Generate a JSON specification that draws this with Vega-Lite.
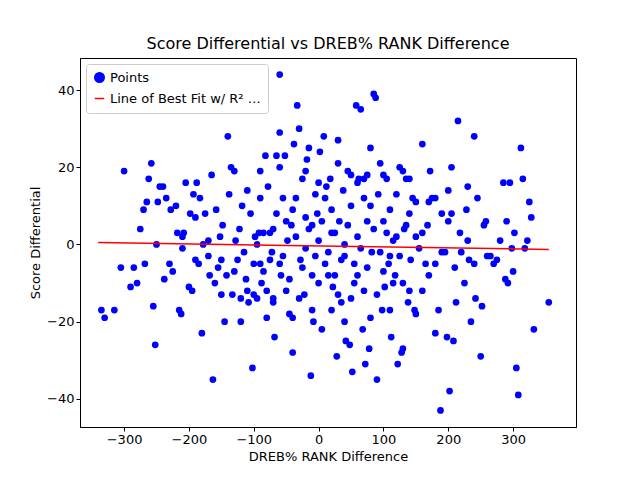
{
  "$schema": "https://vega.github.io/schema/vega-lite/v6.json",
  "width": 496,
  "height": 369,
  "autosize": "none",
  "padding": {"left": 80, "top": 58, "right": 64, "bottom": 53},
  "config": {
    "font": "DejaVu Sans",
    "view": {"stroke": "black", "strokeWidth": 1},
    "axis": {"grid": false, "domainColor": "black", "tickColor": "black", "labelColor": "black", "titleColor": "black", "labelFontSize": 13, "titleFontSize": 13, "titleFontWeight": "normal", "labelFont": "DejaVu Sans", "titleFont": "DejaVu Sans", "tickSize": 4},
    "title": {"fontSize": 16, "fontWeight": "normal", "font": "DejaVu Sans", "offset": 6}
  },
  "title": "Score Differential vs DREB% RANK Difference",
  "datasets": {
    "pts": [
      {"x":-335,"y":-17},{"x":-330,"y":-19},{"x":-315,"y":-17},{"x":-300,"y":19},{"x":-305,"y":-6},{"x":-290,"y":-11},{"x":-285,"y":-6},{"x":-280,"y":-10},{"x":-275,"y":4},{"x":-270,"y":9},{"x":-268,"y":-5},{"x":-265,"y":11},{"x":-262,"y":17},{"x":-258,"y":21},{"x":-255,"y":-16},{"x":-252,"y":-26},{"x":-250,"y":0},{"x":-248,"y":11},{"x":-245,"y":15},{"x":-240,"y":15},{"x":-238,"y":-9},{"x":-235,"y":12},{"x":-230,"y":-5},{"x":-228,"y":9},{"x":-225,"y":-7},{"x":-220,"y":10},{"x":-218,"y":3},{"x":-215,"y":-17},{"x":-212,"y":-18},{"x":-210,"y":2},{"x":-208,"y":3},{"x":-205,"y":16},{"x":-200,"y":-11},{"x":-198,"y":8},{"x":-195,"y":-12},{"x":-193,"y":13},{"x":-190,"y":7},{"x":-188,"y":16},{"x":-185,"y":-5},{"x":-183,"y":12},{"x":-180,"y":-23},{"x":-178,"y":0},{"x":-175,"y":8},{"x":-170,"y":1},{"x":-168,"y":-8},{"x":-165,"y":18},{"x":-163,"y":-35},{"x":-160,"y":-10},{"x":-158,"y":9},{"x":-155,"y":-6},{"x":-152,"y":2},{"x":-150,"y":-4},{"x":-148,"y":5},{"x":-145,"y":-20},{"x":-142,"y":-8},{"x":-140,"y":28},{"x":-138,"y":13},{"x":-135,"y":20},{"x":-133,"y":-13},{"x":-130,"y":19},{"x":-128,"y":1},{"x":-125,"y":-4},{"x":-122,"y":4},{"x":-120,"y":-20},{"x":-118,"y":10},{"x":-115,"y":-2},{"x":-112,"y":-9},{"x":-110,"y":14},{"x":-108,"y":-15},{"x":-105,"y":8},{"x":-102,"y":-32},{"x":-100,"y":-13},{"x":-98,"y":2},{"x":-95,"y":-14},{"x":-92,"y":3},{"x":-90,"y":-5},{"x":-88,"y":-10},{"x":-85,"y":-7},{"x":-82,"y":23},{"x":-80,"y":-19},{"x":-78,"y":15},{"x":-75,"y":3},{"x":-72,"y":-2},{"x":-70,"y":4},{"x":-68,"y":-24},{"x":-65,"y":23},{"x":-60,"y":44},{"x":-60,"y":29},{"x":-58,"y":-8},{"x":-55,"y":12},{"x":-52,"y":23},{"x":-50,"y":-12},{"x":-48,"y":1},{"x":-45,"y":-18},{"x":-42,"y":5},{"x":-40,"y":-28},{"x":-38,"y":26},{"x":-35,"y":12},{"x":-33,"y":36},{"x":-30,"y":30},{"x":-28,"y":-4},{"x":-25,"y":17},{"x":-22,"y":-13},{"x":-20,"y":7},{"x":-18,"y":22},{"x":-15,"y":25},{"x":-12,"y":-34},{"x":-10,"y":5},{"x":-8,"y":-20},{"x":-5,"y":13},{"x":-2,"y":8},{"x":0,"y":-10},{"x":2,"y":24},{"x":5,"y":-22},{"x":8,"y":28},{"x":10,"y":-5},{"x":12,"y":15},{"x":15,"y":-2},{"x":18,"y":17},{"x":20,"y":3},{"x":22,"y":-11},{"x":25,"y":-8},{"x":28,"y":-29},{"x":30,"y":27},{"x":32,"y":6},{"x":35,"y":-15},{"x":38,"y":14},{"x":40,"y":-3},{"x":42,"y":-25},{"x":45,"y":19},{"x":48,"y":-26},{"x":50,"y":10},{"x":52,"y":-33},{"x":55,"y":-5},{"x":58,"y":36},{"x":60,"y":2},{"x":62,"y":17},{"x":65,"y":35},{"x":68,"y":-22},{"x":70,"y":12},{"x":72,"y":-31},{"x":75,"y":6},{"x":78,"y":-27},{"x":80,"y":25},{"x":82,"y":-2},{"x":85,"y":39},{"x":88,"y":38},{"x":90,"y":-35},{"x":92,"y":13},{"x":95,"y":21},{"x":98,"y":-17},{"x":100,"y":6},{"x":102,"y":-11},{"x":105,"y":17},{"x":108,"y":-5},{"x":110,"y":9},{"x":112,"y":-24},{"x":115,"y":1},{"x":118,"y":-8},{"x":120,"y":13},{"x":122,"y":-31},{"x":125,"y":20},{"x":128,"y":-28},{"x":130,"y":-27},{"x":132,"y":4},{"x":135,"y":17},{"x":138,"y":-15},{"x":140,"y":8},{"x":142,"y":-4},{"x":145,"y":12},{"x":148,"y":-17},{"x":150,"y":2},{"x":155,"y":-1},{"x":160,"y":26},{"x":165,"y":-5},{"x":168,"y":5},{"x":172,"y":19},{"x":175,"y":12},{"x":180,"y":-23},{"x":185,"y":-17},{"x":188,"y":-43},{"x":190,"y":8},{"x":195,"y":-2},{"x":198,"y":-24},{"x":200,"y":6},{"x":202,"y":-38},{"x":205,"y":20},{"x":208,"y":-25},{"x":210,"y":-6},{"x":212,"y":-15},{"x":215,"y":32},{"x":218,"y":3},{"x":220,"y":-2},{"x":225,"y":-10},{"x":228,"y":9},{"x":230,"y":15},{"x":232,"y":-4},{"x":235,"y":-20},{"x":240,"y":28},{"x":242,"y":-14},{"x":245,"y":12},{"x":250,"y":-29},{"x":252,"y":-16},{"x":255,"y":5},{"x":258,"y":6},{"x":265,"y":-3},{"x":270,"y":-5},{"x":280,"y":1},{"x":285,"y":16},{"x":288,"y":-9},{"x":290,"y":6},{"x":292,"y":-10},{"x":295,"y":16},{"x":298,"y":-1},{"x":300,"y":-7},{"x":302,"y":3},{"x":305,"y":-32},{"x":308,"y":-39},{"x":312,"y":25},{"x":315,"y":17},{"x":318,"y":-1},{"x":322,"y":1},{"x":325,"y":11},{"x":328,"y":7},{"x":332,"y":-22},{"x":355,"y":-15},
      {"x":-95,"y":0},{"x":-85,"y":3},{"x":-75,"y":-4},{"x":-65,"y":8},{"x":-55,"y":-3},{"x":-45,"y":-9},{"x":-35,"y":2},{"x":-25,"y":-6},{"x":-15,"y":4},{"x":-5,"y":-3},{"x":5,"y":6},{"x":15,"y":-8},{"x":25,"y":3},{"x":35,"y":-4},{"x":45,"y":5},{"x":55,"y":-10},{"x":65,"y":-1},{"x":75,"y":-6},{"x":85,"y":4},{"x":95,"y":-2},{"x":105,"y":3},{"x":115,"y":-10},{"x":125,"y":-3},{"x":135,"y":5},{"x":-90,"y":12},{"x":-70,"y":-14},{"x":-50,"y":6},{"x":-30,"y":-14},{"x":-10,"y":-8},{"x":10,"y":12},{"x":30,"y":-13},{"x":50,"y":-14},{"x":70,"y":-12},{"x":90,"y":-13},{"x":110,"y":-3},{"x":130,"y":-10},{"x":-80,"y":-12},{"x":-60,"y":-5},{"x":-40,"y":9},{"x":-20,"y":-1},{"x":0,"y":1},{"x":20,"y":9},{"x":40,"y":0},{"x":60,"y":-8},{"x":80,"y":10},{"x":100,"y":-7},{"x":120,"y":2},{"x":140,"y":-12},{"x":-110,"y":-12},{"x":-130,"y":-7},{"x":-150,"y":-13},{"x":-170,"y":-3},{"x":-190,"y":-4},{"x":-210,"y":-1},{"x":60,"y":16},{"x":70,"y":17},{"x":80,"y":-19},{"x":100,"y":18},{"x":110,"y":-17},{"x":40,"y":-20},{"x":20,"y":-17},{"x":-10,"y":-17},{"x":-40,"y":-19},{"x":-70,"y":-15},{"x":-100,"y":-5},{"x":-120,"y":-14},{"x":-90,"y":19},{"x":-60,"y":20},{"x":-20,"y":19},{"x":0,"y":16},{"x":30,"y":21},{"x":50,"y":18},{"x":75,"y":18},{"x":130,"y":19},{"x":150,"y":-18},{"x":160,"y":-12},{"x":170,"y":11},{"x":180,"y":12},{"x":190,"y":-2},{"x":200,"y":14},{"x":205,"y":8},{"x":230,"y":1},{"x":240,"y":-5},{"x":260,"y":-3},{"x":275,"y":-4},{"x":140,"y":17},{"x":150,"y":11},{"x":160,"y":3},{"x":170,"y":-8},{"x":180,"y":-5}
    ],
    "fit": [{"x":-340,"y":0.5},{"x":355,"y":-1.3}]
  },
  "encoding": {
    "x": {"field": "x", "type": "quantitative", "title": "DREB% RANK Difference", "scale": {"domain": [-368, 397], "nice": false, "zero": false}, "axis": {"values": [-300,-200,-100,0,100,200,300]}},
    "y": {"field": "y", "type": "quantitative", "title": "Score Differential", "scale": {"domain": [-47.3, 48.3], "nice": false, "zero": false}, "axis": {"values": [-40,-20,0,20,40]}}
  },
  "layer": [
    {
      "data": {"name": "pts"},
      "mark": {"type": "point", "filled": true, "size": 45, "opacity": 1},
      "encoding": {
        "color": {"datum": "Points", "type": "nominal", "title": null,
          "scale": {"domain": ["Points", "Line of Best Fit w/ R² = 0.001"], "range": ["#0000ff", "#ff0000"]},
          "legend": {"orient": "top-left", "fillColor": "rgba(255,255,255,0.8)", "strokeColor": "#cccccc", "padding": 7, "cornerRadius": 3, "labelFontSize": 13, "symbolSize": 90, "symbolStrokeWidth": 1.5, "rowPadding": 6, "offset": 6}},
        "shape": {"datum": "Points", "type": "nominal", "title": null,
          "scale": {"domain": ["Points", "Line of Best Fit w/ R² = 0.001"], "range": ["circle", "stroke"]}}
      }
    },
    {
      "data": {"name": "fit"},
      "mark": {"type": "line", "strokeWidth": 1.5},
      "encoding": {
        "color": {"datum": "Line of Best Fit w/ R² = 0.001", "type": "nominal"}
      }
    }
  ]
}
